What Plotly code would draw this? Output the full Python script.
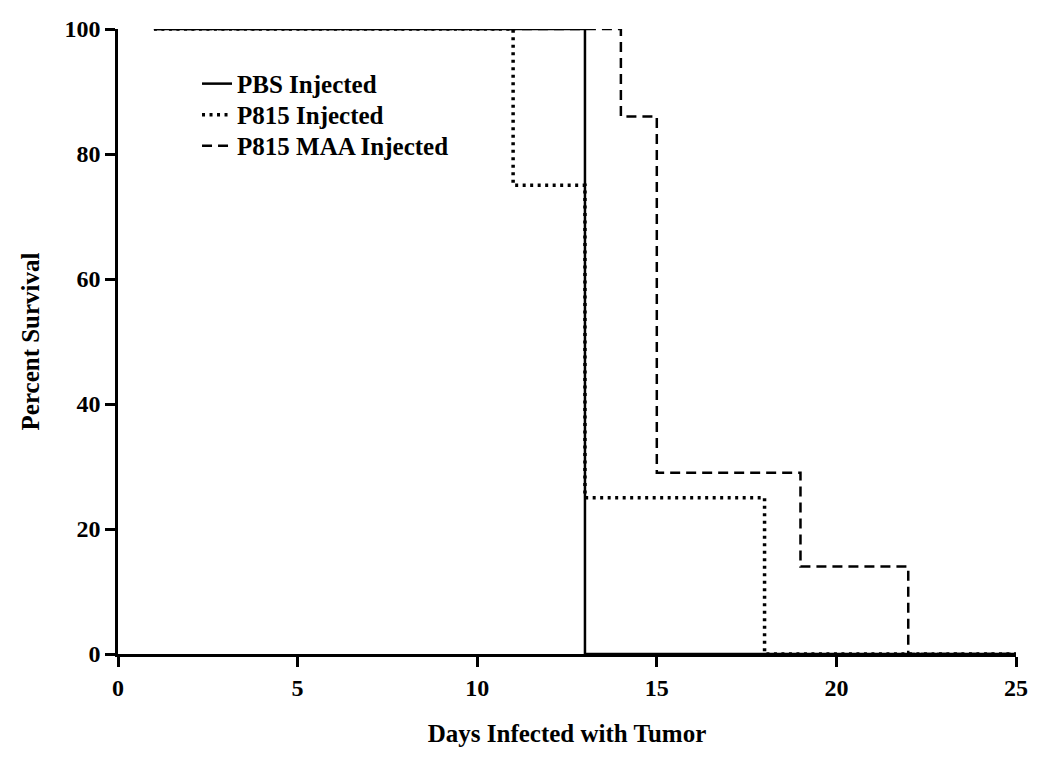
import plotly.graph_objects as go

# Data (Kaplan-Meier style step curves)
pbs_days = [1, 13, 25]
pbs_surv = [100, 0, 0]
p815_days = [1, 11, 13, 18, 25]
p815_surv = [100, 75, 25, 0, 0]
maa_days = [1, 14, 15, 19, 22, 25]
maa_surv = [100, 86, 29, 14, 0, 0]

series_names = ["PBS Injected", "P815 Injected", "P815 MAA Injected"]
x_ticks = [0, 5, 10, 15, 20, 25]
y_ticks = [0, 20, 40, 60, 80, 100]

font_family = "Liberation Serif, Times New Roman, serif"
tick_font = dict(family=font_family, size=24, color="black", weight="bold")
label_font = dict(family=font_family, size=25, color="black", weight="bold")

fig = go.Figure()
fig.add_trace(go.Scatter(x=maa_days, y=maa_surv, mode="lines", name=series_names[2],
                         legend="legend3",
                         line=dict(shape="hv", color="black", width=2.5, dash="10px,6px")))
fig.add_trace(go.Scatter(x=p815_days, y=p815_surv, mode="lines", name=series_names[1],
                         legend="legend2",
                         line=dict(shape="hv", color="black", width=3.5, dash="3px,4.5px")))
fig.add_trace(go.Scatter(x=pbs_days, y=pbs_surv, mode="lines", name=series_names[0],
                         legend="legend",
                         line=dict(shape="hv", color="black", width=2.5)))

legend_common = dict(x=0.088, xanchor="left", yanchor="top", font=label_font,
                     bgcolor="rgba(0,0,0,0)")

fig.update_layout(
    width=1042, height=754,
    margin=dict(l=110, r=34, t=21, b=108),
    paper_bgcolor="white", plot_bgcolor="white",
    font=label_font,
    showlegend=True,
    legend=dict(y=0.949, **legend_common),
    legend2=dict(y=0.8994, **legend_common),
    legend3=dict(y=0.8498, **legend_common),
    xaxis=dict(range=[0, 25], tickvals=x_ticks, automargin=False,
               showgrid=False, zeroline=False, showline=True, linecolor="black", linewidth=2.5,
               ticks="outside", ticklen=10, tickwidth=2.5, tickcolor="black",
               tickfont=tick_font,
               title=dict(text="Days Infected with Tumor", standoff=25, font=label_font)),
    yaxis=dict(range=[0, 100], tickvals=y_ticks, automargin=False,
               showgrid=False, zeroline=False, showline=True, linecolor="black", linewidth=2.5,
               ticks="outside", ticklen=10, tickwidth=2.5, tickcolor="black",
               tickfont=tick_font,
               title=dict(text="Percent Survival", standoff=18, font=label_font)),
)

fig.write_html("out.html")
